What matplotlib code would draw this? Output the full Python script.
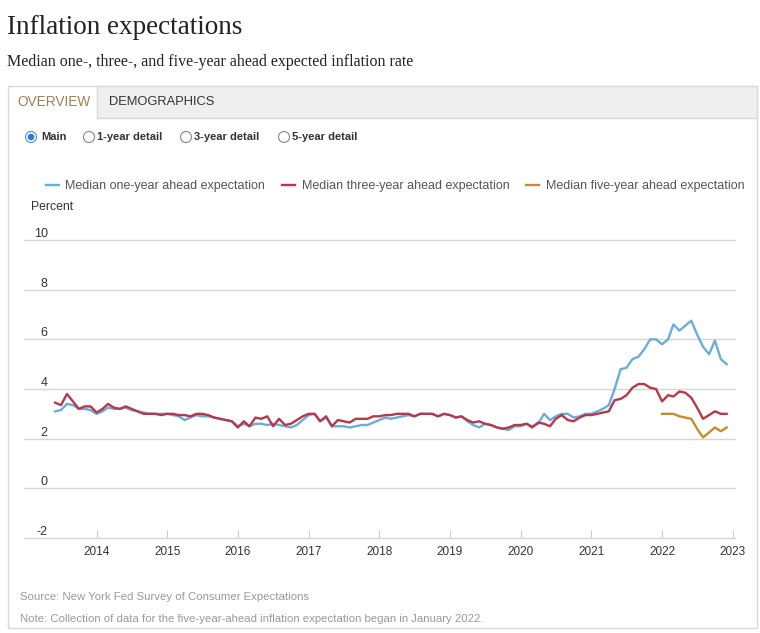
import pandas as pd
import matplotlib
matplotlib.use("Agg")
import matplotlib.pyplot as plt
from matplotlib.patches import Rectangle, Circle
from matplotlib.lines import Line2D
from matplotlib.transforms import IdentityTransform

W, H = 760, 633

# monthly survey, June 2013 - December 2022
months = pd.date_range("2013-06-01", "2022-12-01", freq="MS")
five_months = pd.date_range("2022-01-01", "2022-12-01", freq="MS")

one_year = [
    3.1, 3.15, 3.4, 3.35, 3.2, 3.2, 3.15,                              # 2013
    3.0, 3.1, 3.25, 3.2, 3.2, 3.25, 3.15, 3.1, 3.05, 3.0, 3.0, 3.0,    # 2014
    3.0, 2.95, 2.9, 2.75, 2.85, 2.95, 2.9, 2.9, 2.85, 2.8, 2.75, 2.7,  # 2015
    2.5, 2.6, 2.5, 2.6, 2.6, 2.55, 2.6, 2.55, 2.5, 2.45, 2.55, 2.75,   # 2016
    2.95, 3.0, 2.7, 2.85, 2.5, 2.5, 2.5, 2.45, 2.5, 2.55, 2.55, 2.65,  # 2017
    2.75, 2.85, 2.8, 2.85, 2.9, 2.95, 2.9, 3.0, 3.0, 3.0, 2.9, 3.0,    # 2018
    2.95, 2.85, 2.9, 2.7, 2.55, 2.45, 2.6, 2.55, 2.45, 2.4, 2.35, 2.5, # 2019
    2.5, 2.6, 2.5, 2.6, 3.0, 2.75, 2.9, 3.0, 3.0, 2.85, 2.9, 3.0,      # 2020
    3.0, 3.1, 3.2, 3.35, 4.0, 4.8, 4.85, 5.2, 5.3, 5.6, 6.0, 6.0,      # 2021
    5.8, 6.0, 6.6, 6.35, 6.55, 6.75, 6.2, 5.7, 5.4, 5.95, 5.2, 5.0,    # 2022
]

three_year = [
    3.45, 3.35, 3.8, 3.5, 3.2, 3.3, 3.3,                                # 2013
    3.05, 3.2, 3.4, 3.25, 3.2, 3.3, 3.2, 3.1, 3.0, 3.0, 3.0, 2.95,      # 2014
    3.0, 3.0, 2.95, 2.95, 2.9, 3.0, 3.0, 2.95, 2.85, 2.8, 2.75, 2.7,    # 2015
    2.45, 2.7, 2.5, 2.85, 2.8, 2.9, 2.5, 2.8, 2.55, 2.6, 2.75, 2.9,     # 2016
    3.0, 3.0, 2.7, 2.9, 2.5, 2.75, 2.7, 2.65, 2.8, 2.8, 2.8, 2.9,       # 2017
    2.9, 2.95, 2.95, 3.0, 3.0, 3.0, 2.9, 3.0, 3.0, 3.0, 2.9, 3.0,       # 2018
    2.95, 2.85, 2.9, 2.75, 2.65, 2.7, 2.6, 2.55, 2.45, 2.4, 2.45, 2.55, # 2019
    2.55, 2.6, 2.45, 2.65, 2.6, 2.5, 2.8, 2.95, 2.75, 2.7, 2.85, 2.95,  # 2020
    2.95, 3.0, 3.05, 3.1, 3.55, 3.6, 3.75, 4.05, 4.2, 4.2, 4.05, 4.0,   # 2021
    3.5, 3.75, 3.7, 3.9, 3.85, 3.65, 3.25, 2.8, 2.95, 3.1, 3.0, 3.0,    # 2022
]

five_year = [3.0, 3.0, 3.0, 2.9, 2.85, 2.8, 2.4, 2.05, 2.25, 2.45, 2.3, 2.45]

year_ticks = list(range(2014, 2024))
y_ticks = [-2, 0, 2, 4, 6, 8, 10]

labels = ["Median one-year ahead expectation",
          "Median three-year ahead expectation",
          "Median five-year ahead expectation"]
colors = ["#6aaed6", "#b5384b", "#c38d2f"]


def fx(x):
    return x / W


def fy(y):
    return 1 - y / H


plt.rcParams["font.family"] = ["Liberation Sans", "DejaVu Sans"]
fig = plt.figure(figsize=(W / 100, H / 100), dpi=100)
fig.patch.set_facecolor("white")

# header
fig.text(fx(7), fy(27), "Inflation expectations", family="Liberation Serif",
         fontsize=19.5, color="#222222", va="center")
fig.text(fx(7), fy(62), "Median one-, three-, and five-year ahead expected inflation rate",
         family="Liberation Serif", fontsize=11.5, color="#222222", va="center")

# widget frame and tab bar
fig.add_artist(Rectangle((fx(8), fy(628)), fx(757) - fx(8), fy(86) - fy(628),
                         transform=fig.transFigure, facecolor="none",
                         edgecolor="#d9d9d9", lw=1))
fig.add_artist(Rectangle((fx(97), fy(118)), fx(757) - fx(97), fy(86) - fy(118),
                         transform=fig.transFigure, facecolor="#efefef",
                         edgecolor="#d9d9d9", lw=1))
fig.text(fx(17), fy(102), "OVERVIEW", fontsize=9.8, color="#a07f55", va="center")
fig.text(fx(109), fy(102), "DEMOGRAPHICS", fontsize=9.3, color="#333333", va="center")

# radio buttons
radio = [("Main", 31, 41, True), ("1-year detail", 89, 97, False),
         ("3-year detail", 186, 194, False), ("5-year detail", 284, 292, False)]
for name, cx, tx, sel in radio:
    fig.add_artist(Circle((cx, H - 137), 5.5, transform=IdentityTransform(),
                          facecolor="white", edgecolor="#4a8fd8" if sel else "#888888",
                          lw=0.8))
    if sel:
        fig.add_artist(Circle((cx, H - 137), 3.3, transform=IdentityTransform(),
                              facecolor="#2b78e0", edgecolor="none"))
    fig.text(fx(tx), fy(137), name, fontsize=8, fontweight="bold",
             color="#333333", va="center")

# chart
ax = fig.add_axes([fx(24), fy(538), fx(735) - fx(24), fy(240) - fy(538)])
ax.plot(months, one_year, color=colors[0], lw=1.7)
ax.plot(months, three_year, color=colors[1], lw=1.7)
ax.plot(five_months, five_year, color=colors[2], lw=1.7)

ax.set_ylim(-2, 10)
ax.set_xlim(pd.Timestamp("2012-12-22"), pd.Timestamp("2023-01-13"))
ax.set_yticks(y_ticks)
ax.set_yticklabels([str(v) for v in y_ticks])
ax.set_xticks([pd.Timestamp(f"{y}-01-01") for y in year_ticks])
ax.set_xticklabels([str(y) for y in year_ticks])

ax.grid(axis="y", color="#d6d6d6", lw=1)
for line in ax.get_ygridlines():
    line.set_clip_on(False)
for s in ax.spines.values():
    s.set_visible(False)
ax.tick_params(axis="x", direction="in", length=6, width=0.8, color="#cccccc",
               pad=6, labelsize=8.5, labelcolor="#333333")
ax.tick_params(axis="y", length=0, pad=-17, labelsize=9, labelcolor="#333333")
for lab in ax.get_yticklabels():
    lab.set_verticalalignment("bottom")

handles = [Line2D([], [], color=c, lw=1.7) for c in colors]
fig.legend(handles, labels, loc="center left", bbox_to_anchor=(fx(46), fy(186)),
           ncol=3, frameon=False, fontsize=9, handlelength=1.0,
           handletextpad=0.55, columnspacing=1.35, labelcolor="#555555",
           borderaxespad=0, borderpad=0)
fig.text(fx(31), fy(207), "Percent", fontsize=8.8, color="#333333", va="center")

# footer
fig.text(fx(20), fy(597), "Source: New York Fed Survey of Consumer Expectations",
         fontsize=8.2, color="#999999", va="center")
fig.text(fx(20), fy(619),
         "Note: Collection of data for the five-year-ahead inflation expectation began in January 2022.",
         fontsize=8.2, color="#999999", va="center")

fig.savefig("out.png", dpi=100)
